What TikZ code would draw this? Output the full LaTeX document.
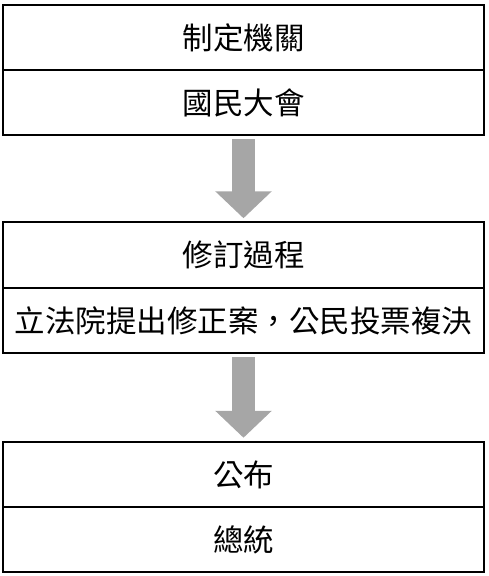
\documentclass[tikz,border=0pt]{standalone}
\usepackage{fontspec}
\setmainfont{Noto Sans CJK TC}
\usetikzlibrary{arrows.meta}

\tikzset{
  row/.style={draw, line width=1.6pt, minimum width=481pt, minimum height=65.5pt,
    inner sep=0pt, outer sep=0pt, font=\fontsize{30.5}{32}\selectfont},
  flow/.style={draw=black!35, line width=23pt,
    -{Triangle[width=55pt,length=27pt]}, shorten <=4pt, shorten >=4pt}
}

\begin{document}
\begin{tikzpicture}[x=1pt,y=-1pt]
    \useasboundingbox (0,0) rectangle (488,576);

    \node[row] (organ) at (243.5,37.5) {制定機關};
    \node[row] (assembly) at (243.5,102.5) {國民大會};

    \node[row] (process) at (243.5,255) {修訂過程};
    \node[row] (referendum) at (243.5,320.5) {立法院提出修正案，公民投票複決};

    \node[row] (promulgate) at (243.5,474.5) {公布};
    \node[row] (president) at (243.5,539.5) {總統};

    \draw[flow] (assembly.south) -- (process.north);
    \draw[flow] (referendum.south) -- (promulgate.north);
\end{tikzpicture}
\end{document}
